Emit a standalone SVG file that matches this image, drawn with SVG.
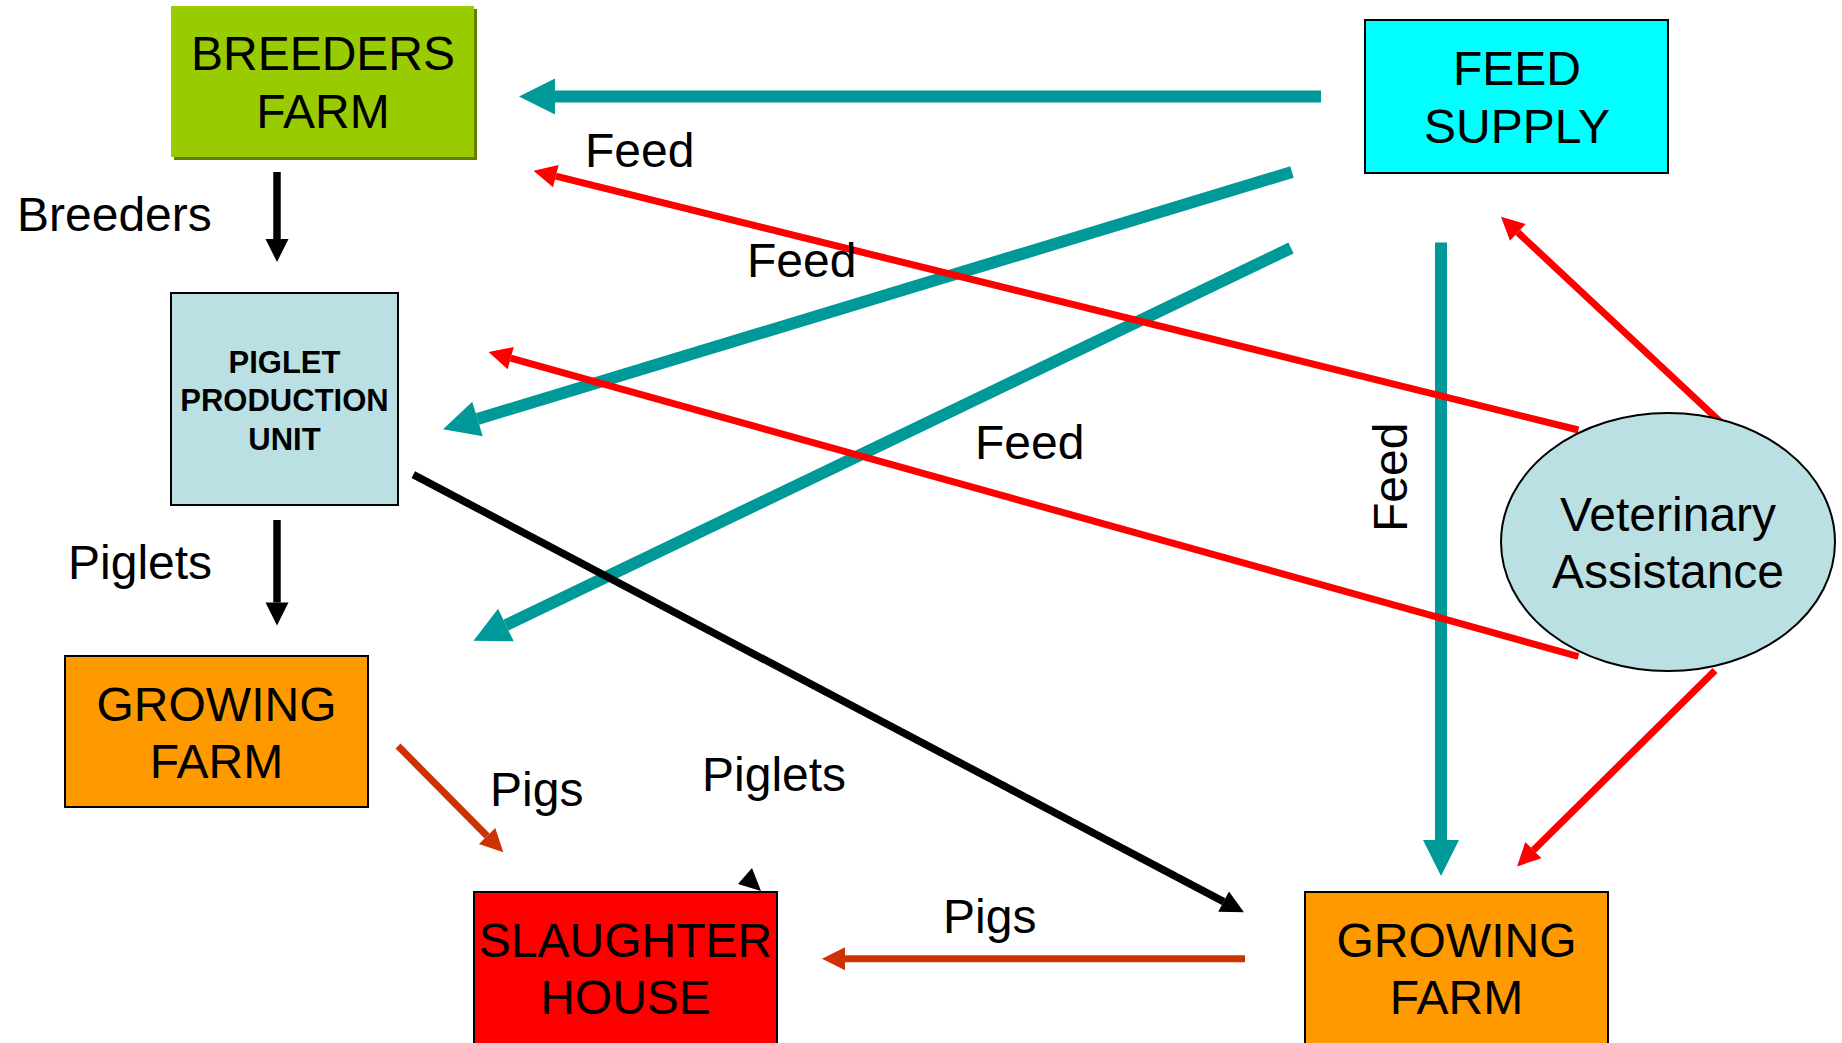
<svg xmlns="http://www.w3.org/2000/svg" width="1842" height="1043" viewBox="0 0 1842 1043">
<defs>
<style>
.t{font-family:"Liberation Sans",Arial,sans-serif;font-size:48px;fill:#000;text-anchor:middle}
.l{font-family:"Liberation Sans",Arial,sans-serif;font-size:48px;fill:#000}
.b{font-family:"Liberation Sans",Arial,sans-serif;font-size:31px;font-weight:bold;fill:#000;text-anchor:middle}
.box{stroke:#000;stroke-width:2}
.teal{stroke:#009999;stroke-width:12;fill:none;marker-end:url(#hTeal)}
.red{stroke:#FF0000;stroke-width:7;fill:none;marker-end:url(#hRed)}
.blk{stroke:#000;stroke-width:7.5;fill:none;marker-end:url(#hBlk)}
.brn{stroke:#CC3300;stroke-width:7;fill:none;marker-end:url(#hBrn)}
</style>
<marker id="hTeal" markerUnits="userSpaceOnUse" viewBox="0 -18 36 36" refX="0" refY="0" markerWidth="36" markerHeight="36" orient="auto" overflow="visible"><path d="M0,-18 L36,0 L0,18 z" fill="#009999"/></marker>
<marker id="hRed" markerUnits="userSpaceOnUse" viewBox="0 -12 23 24" refX="0" refY="0" markerWidth="23" markerHeight="24" orient="auto" overflow="visible"><path d="M0,-11.5 L23,0 L0,11.5 z" fill="#FF0000"/></marker>
<marker id="hBlk" markerUnits="userSpaceOnUse" viewBox="0 -12 23 24" refX="0" refY="0" markerWidth="23" markerHeight="24" orient="auto" overflow="visible"><path d="M0,-11.5 L23,0 L0,11.5 z" fill="#000"/></marker>
<marker id="hBrn" markerUnits="userSpaceOnUse" viewBox="0 -12 23 24" refX="0" refY="0" markerWidth="23" markerHeight="24" orient="auto" overflow="visible"><path d="M0,-11.5 L23,0 L0,11.5 z" fill="#CC3300"/></marker>
</defs>
<rect width="1842" height="1043" fill="#fff"/>

<g id="connectors">
<line class="teal" x1="1321" y1="96.5" x2="555" y2="96.5"/>
<line class="teal" x1="1292" y1="172" x2="477.5" y2="418.9"/>
<line class="teal" x1="1291" y1="248" x2="505.9" y2="625.1"/>
<line class="teal" x1="1441" y1="242.5" x2="1441" y2="840"/>
<line class="red" x1="1578.4" y1="430" x2="555.8" y2="176.2"/>
<line class="red" x1="1578.4" y1="656.5" x2="510.7" y2="358.2"/>
<line class="red" x1="1729" y1="430" x2="1517.8" y2="232.4"/>
<line class="red" x1="1715" y1="670.5" x2="1533.4" y2="850.2"/>
<line class="blk" x1="277" y1="172" x2="277" y2="239"/>
<line class="blk" x1="277" y1="520" x2="277" y2="602.5"/>
<line class="blk" x1="413.3" y1="474.6" x2="1223.6" y2="901.6"/>
<line class="brn" x1="398" y1="746" x2="487.1" y2="836"/>
<line class="brn" x1="1245" y1="958.7" x2="845" y2="958.7"/>
<polygon points="752,868 738,884 761,891" fill="#000"/>
</g>

<g id="breeders-farm">
<rect x="174" y="9" width="303" height="151" fill="#667F00"/>
<rect x="171" y="6" width="303" height="151" fill="#99CC00"/>
<text class="t" x="323" y="70">BREEDERS</text>
<text class="t" x="323" y="128">FARM</text>
</g>

<g id="feed-supply">
<rect class="box" x="1365" y="20" width="303" height="153" fill="#00FFFF"/>
<text class="t" x="1517" y="85">FEED</text>
<text class="t" x="1517" y="143">SUPPLY</text>
</g>

<g id="piglet-production-unit">
<rect class="box" x="171" y="293" width="227" height="212" fill="#BBE0E3"/>
<text class="b" x="284.5" y="373">PIGLET</text>
<text class="b" x="284.5" y="411">PRODUCTION</text>
<text class="b" x="284.5" y="450">UNIT</text>
</g>

<g id="growing-farm-left">
<rect class="box" x="65" y="656" width="303" height="151" fill="#FF9900"/>
<text class="t" x="216.5" y="721">GROWING</text>
<text class="t" x="216.5" y="778">FARM</text>
</g>

<g id="slaughter-house">
<rect class="box" x="474" y="892" width="303" height="160" fill="#FF0000"/>
<text class="t" x="625.5" y="957">SLAUGHTER</text>
<text class="t" x="625.5" y="1014">HOUSE</text>
</g>

<g id="growing-farm-right">
<rect class="box" x="1305" y="892" width="303" height="160" fill="#FF9900"/>
<text class="t" x="1456.5" y="957">GROWING</text>
<text class="t" x="1456.5" y="1014">FARM</text>
</g>

<g id="veterinary-assistance">
<ellipse class="box" cx="1668" cy="542" rx="167" ry="129" fill="#BBE0E3"/>
<text class="t" x="1668" y="531">Veterinary</text>
<text class="t" x="1668" y="588">Assistance</text>
</g>

<g id="labels">
<text class="l" x="17" y="231">Breeders</text>
<text class="l" x="585" y="167">Feed</text>
<text class="l" x="747" y="277">Feed</text>
<text class="l" x="975" y="459">Feed</text>
<text class="l" transform="translate(1407,532) rotate(-90)">Feed</text>
<text class="l" x="68" y="579">Piglets</text>
<text class="l" x="490" y="806">Pigs</text>
<text class="l" x="702" y="791">Piglets</text>
<text class="l" x="943" y="933">Pigs</text>
</g>
</svg>
